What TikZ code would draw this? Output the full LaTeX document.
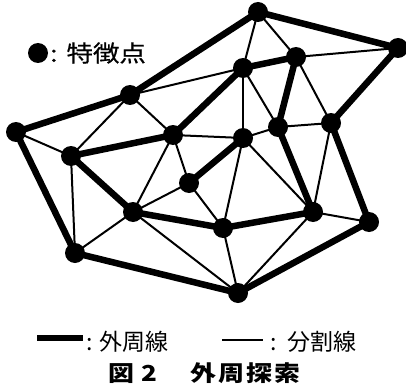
\documentclass[tikz,border=0pt]{standalone}
\usepackage{fontspec}
\newfontfamily\jpleg{Noto Sans CJK JP}
\newfontfamily\jptop[FakeStretch=1.15,FakeBold=0.6]{Noto Sans CJK JP}
\newfontfamily\jpcap[FakeStretch=1.18]{Noto Sans CJK JP}
\tikzset{
  pt/.style={circle,fill=black,inner sep=0pt,minimum size=20pt},
  outer/.style={line width=6.5pt,line cap=round},
  inner/.style={line width=2pt,line cap=round},
  lbl/.style={anchor=west,inner sep=0pt,text=black}
}
\begin{document}
\begin{tikzpicture}[x=1pt,y=-1pt]
\useasboundingbox (0,0) rectangle (406,385);
% feature points
\coordinate (A) at (258,12);
\coordinate (B) at (398,48);
\coordinate (C) at (296,57);
\coordinate (D) at (243,68);
\coordinate (E) at (130,95);
\coordinate (F) at (16,132);
\coordinate (G) at (331,123);
\coordinate (H) at (173,135);
\coordinate (I) at (278,127);
\coordinate (J) at (243,138);
\coordinate (K) at (71,156);
\coordinate (L) at (189,183);
\coordinate (M) at (133,212);
\coordinate (N) at (75,253);
\coordinate (O) at (223,228);
\coordinate (P) at (313,212);
\coordinate (Q) at (369,222);
\coordinate (R) at (238,293);
% division lines
\foreach \a/\b in {F/K,E/K,E/H,E/D,A/D,A/C,C/B,C/G,D/J,D/I,I/G,I/J,H/J,J/P,J/O,G/P,P/Q,P/R,O/R,M/R,M/N,K/N,M/L,L/O,H/L,H/M}
  \draw[inner] (\a) -- (\b);
% outer lines
\foreach \a/\b in {F/E,E/A,A/B,B/G,G/Q,Q/R,R/N,N/F,K/M,M/O,O/P,P/I,I/C,C/D,D/H,H/K,L/J}
  \draw[outer] (\a) -- (\b);
\foreach \n in {A,B,C,D,E,F,G,H,I,J,K,L,M,N,O,P,Q,R}
  \node[pt] (n\n) at (\n) {};
% legend top
\node[pt] (legdot) at (38,53) {};
\node[lbl,font=\jptop\fontsize{23}{23}\selectfont] (legpt) at (50,53) {:\hspace{9pt}特徴点};
% legend bottom
\coordinate (t1) at (37,338);
\coordinate (t2) at (83,338);
\draw[line width=5.5pt] (t1) -- (t2);
\node[lbl,font=\jpleg\fontsize{23}{23}\selectfont] (legout) at (86,342) {:\hspace{7pt}外周線};
\coordinate (s1) at (222,340);
\coordinate (s2) at (263,340);
\draw[line width=2pt] (s1) -- (s2);
\node[lbl,font=\jpleg\fontsize{23}{23}\selectfont] (legdiv) at (270,342) {:\hspace{11pt}分割線};
% caption
\node[lbl,font=\jpcap\bfseries\fontsize{22}{22}\selectfont] (cap) at (108,373) {図\hspace{7pt}2\hspace{34pt}外\hspace{2pt}周\hspace{2pt}探\hspace{2pt}索};
\end{tikzpicture}
\end{document}
